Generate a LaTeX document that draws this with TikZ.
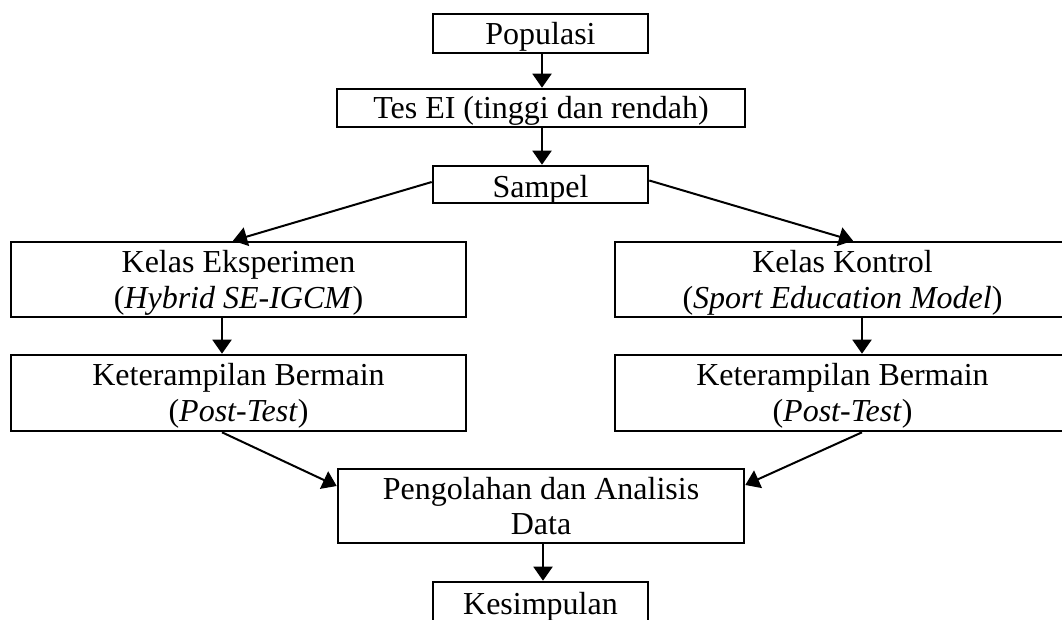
\documentclass[tikz,border=0pt]{standalone}
\usepackage{fontspec}
\setmainfont{Liberation Serif}
\usetikzlibrary{arrows.meta,calc}
\begin{document}
\begin{tikzpicture}[x=1pt,y=-1pt,
  box/.style={draw=black,line width=2.6pt,rectangle,inner sep=0pt,align=center,
    font=\fontsize{32}{35.5}\selectfont},
  conn/.style={line width=2pt,-{Triangle[length=14pt,width=19pt]}}]
\useasboundingbox (0,0) rectangle (1062,619);
\fill[white] (0,0) rectangle (1062,619);
\node[box,minimum width=215,minimum height=39,text height=28pt,text depth=7pt] (pop) at (540.5,33.5) {Populasi};
\node[box,minimum width=408,minimum height=38,text height=28pt,text depth=8pt] (tes) at (541,108) {Tes EI (tinggi dan rendah)};
\node[box,minimum width=215,minimum height=37,text height=29pt,text depth=4pt] (samp) at (540.5,184.5) {Sampel};
\node[box,minimum width=455,minimum height=75,text height=65pt,text depth=8pt] (ke) at (238.5,279.5) {Kelas Eksperimen\\(\textit{Hybrid SE-IGCM})};
\node[box,minimum width=455,minimum height=75,text height=65pt,text depth=8pt] (kk) at (842.5,279.5) {Kelas Kontrol\\(\textit{Sport Education Model})};
\node[box,minimum width=455,minimum height=76,text height=64pt,text depth=8pt] (kb) at (238.5,393) {Keterampilan Bermain\\(\textit{Post-Test})};
\node[box,minimum width=455,minimum height=76,text height=64pt,text depth=8pt] (kr) at (842.5,393) {Keterampilan Bermain\\(\textit{Post-Test})};
\node[box,minimum width=406,minimum height=74,text height=65pt,text depth=8pt] (pd) at (541,506) {Pengolahan dan Analisis\\Data};
\node[box,minimum width=215,minimum height=44,text height=27pt,text depth=7pt] (kes) at (540.5,604) {Kesimpulan};
\draw[conn] ([xshift=1.5pt]pop.south) -- ([xshift=1.5pt]pop.south |- tes.north);
\draw[conn] ([xshift=1pt]tes.south) -- ([xshift=1pt]tes.south |- samp.north);
\draw[conn] ([yshift=2.5pt]samp.west) -- ([xshift=-5.5pt]ke.north);
\draw[conn] ([yshift=4pt]samp.east) -- ([xshift=10.5pt]kk.north);
\draw[conn] ([xshift=-16.5pt]ke.south) -- ([xshift=-16.5pt]kb.north);
\draw[conn] ([xshift=19.5pt]kk.south) -- ([xshift=19.5pt]kr.north);
\draw[conn] ([xshift=-16.5pt]kb.south) -- ([yshift=20pt]pd.west);
\draw[conn] ([xshift=19.5pt]kr.south) -- ([yshift=21pt]pd.east);
\draw[conn] ([xshift=2pt]pd.south) -- ([xshift=2pt]pd.south |- kes.north);
\end{tikzpicture}
\end{document}
